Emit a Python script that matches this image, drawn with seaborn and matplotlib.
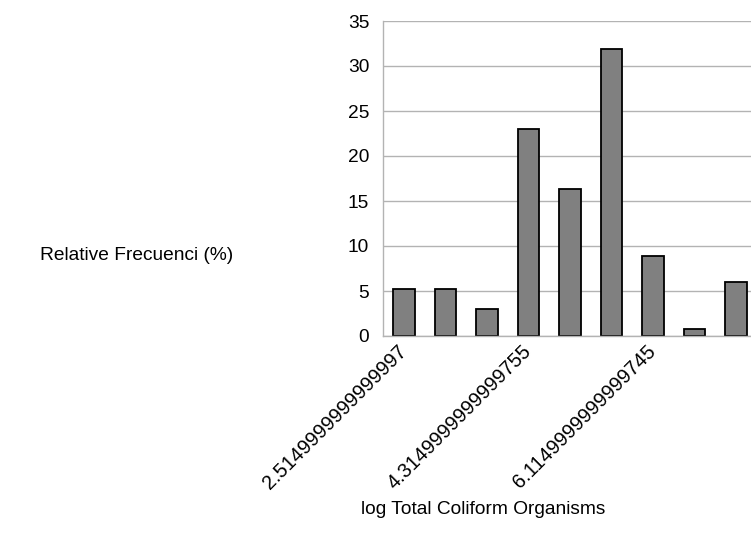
import numpy as np
import pandas as pd
import matplotlib
matplotlib.use("Agg")
import matplotlib.pyplot as plt
import seaborn as sns

# Datos
clases = ["2.5149999999999997", "3.1149999999999998", "3.7149999999999999",
          "4.3149999999999755", "4.9149999999999750", "5.5149999999999750",
          "6.1149999999999745", "6.7149999999999740", "7.3149999999999740"]
frecuencia = [5.2, 5.2, 3.0, 23.0, 16.3, 31.9, 8.9, 0.75, 5.95]
etiquetas_visibles = [0, 3, 6]

df = pd.DataFrame({"clase": clases, "frecuencia": frecuencia})

sns.set_style("white")
plt.rcParams["font.family"] = ["Liberation Sans", "DejaVu Sans"]
tam = 13.8

fig = plt.figure(figsize=(7.51, 5.43), dpi=100)
ax = fig.add_axes([383 / 751, 1 - 336 / 543, 374 / 751, 315 / 543])

sns.barplot(data=df, x="clase", y="frecuencia", color="#808080",
            saturation=1, width=0.52, edgecolor="black", linewidth=1.3, ax=ax)

ax.set_ylim(0, 35)
ax.set_yticks(np.arange(0, 36, 5))
ax.set_xlim(-0.5, len(clases) - 0.5)
ax.yaxis.grid(True, color="#b3b3b3", linewidth=1)
ax.set_axisbelow(True)
for lado in ["top", "right"]:
    ax.spines[lado].set_visible(False)
for lado in ["left", "bottom"]:
    ax.spines[lado].set_color("#b3b3b3")
    ax.spines[lado].set_linewidth(1)

ax.tick_params(axis="y", length=8, width=1, color="#b3b3b3", labelsize=tam,
               pad=2, labelcolor="black")
ax.tick_params(axis="x", length=0, labelsize=14.4, pad=9, labelcolor="black")
ax.set_xticks(etiquetas_visibles)
ax.set_xticklabels([clases[i] for i in etiquetas_visibles], rotation=45,
                   ha="right", va="center", rotation_mode="anchor")

ax.set_xlabel("log Total Coliform Organisms", fontsize=13.8, color="black")
ax.xaxis.set_label_coords((483 - 383) / 374, -(510 - 336) / 315)
ax.xaxis.label.set_va("center")
ax.set_ylabel("Relative Frecuenci (%)", fontsize=tam, rotation=0,
              ha="center", va="center", color="black")
ax.yaxis.set_label_coords((137 - 383) / 374, (336 - 256) / 315)

fig.savefig("out.png", dpi=100)
